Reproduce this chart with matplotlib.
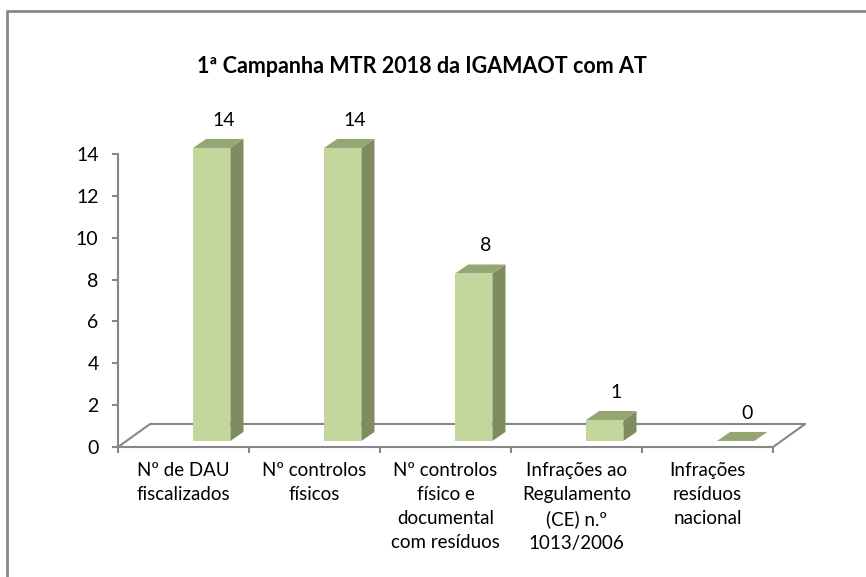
import matplotlib
matplotlib.use("Agg")
import matplotlib.pyplot as plt
from matplotlib.patches import Polygon
from matplotlib.lines import Line2D

plt.rcParams['font.family'] = ['Lato', 'DejaVu Sans']

titulo = "1ª Campanha MTR 2018 da IGAMAOT com AT"
categorias = ["Nº de DAU\nfiscalizados",
              "Nº controlos\nfísicos",
              "Nº controlos\nfísico e\ndocumental\ncom resíduos",
              "Infrações ao\nRegulamento\n(CE) n.º\n1013/2006",
              "Infrações\nresíduos\nnacional"]
valores = [14, 14, 8, 1, 0]
yticks = [0, 2, 4, 6, 8, 10, 12, 14]

frente = '#C3D69B'
lado = '#7F8C60'
topo = '#95A574'
cinza = '#878787'

# "3d" look (in data units)
sx, w = 0.215, 0.285     # shift of bar front face, width of front face
ddx, ddy = 0.10, 0.43    # depth of bars
base = 0.29              # bars stand a bit above the front edge of the floor
fdx, fdy = 0.245, 1.10   # depth of floor

fig = plt.figure(figsize=(8.66, 5.77), dpi=100)
ax = fig.add_axes([0.1363, 0.2253, 0.7564, 0.5078])
ax.set_xlim(-0.5, 4.5)
ax.set_ylim(0, 14)

# floor
n = len(valores)
ax.add_line(Line2D([-0.5, -0.5 + fdx, n - 0.5 + fdx, n - 0.5],
                   [0, fdy, fdy, 0], color=cinza, lw=1.5, clip_on=False))

for i, v in enumerate(valores):
    x0 = i + sx - w / 2
    x1 = x0 + w
    y0 = base
    y1 = base + v
    if v > 0:
        ax.add_patch(Polygon([(x0, y0), (x1, y0), (x1, y1), (x0, y1)],
                             closed=True, fc=frente, ec='none', clip_on=False, zorder=3))
        ax.add_patch(Polygon([(x1, y0), (x1 + ddx, y0 + ddy), (x1 + ddx, y1 + ddy), (x1, y1)],
                             closed=True, fc=lado, ec='none', clip_on=False, zorder=3))
    ax.add_patch(Polygon([(x0, y1), (x1, y1), (x1 + ddx, y1 + ddy), (x0 + ddx, y1 + ddy)],
                         closed=True, fc=topo, ec='none', clip_on=False, zorder=3))
    ax.annotate(str(v), (i + sx + ddx * 0.9, y1), xytext=(0, 20), textcoords='offset points',
                ha='center', va='center', fontsize=14, color='black',
                annotation_clip=False)

for s in ['top', 'right']:
    ax.spines[s].set_visible(False)
for s in ['left', 'bottom']:
    ax.spines[s].set_color(cinza)
    ax.spines[s].set_linewidth(1.5)

ax.set_yticks(yticks)
ax.tick_params(axis='y', direction='out', length=4, width=1.5, color=cinza,
               labelsize=14, pad=10)
ax.set_xticks([i - 0.5 for i in range(n + 1)])
ax.set_xticklabels([])
ax.set_xticks(range(n), minor=True)
ax.set_xticklabels(categorias, minor=True)
ax.tick_params(axis='x', which='major', direction='out', length=4, width=1.5, color=cinza)
ax.tick_params(axis='x', which='minor', length=0, labelsize=13.5, pad=10.5)
for t in ax.get_xticklabels(minor=True):
    t.set_linespacing(1.5)

fig.text(0.487, 0.884, titulo, ha='center', va='center', fontsize=15.5, fontweight='bold')

# chart border (only top and left visible)
fig.add_artist(Line2D([7 / 866, 7 / 866, 1], [0, 1 - 11 / 577, 1 - 11 / 577],
                      transform=fig.transFigure, color=cinza, lw=2))

fig.savefig("out.png", dpi=100)
